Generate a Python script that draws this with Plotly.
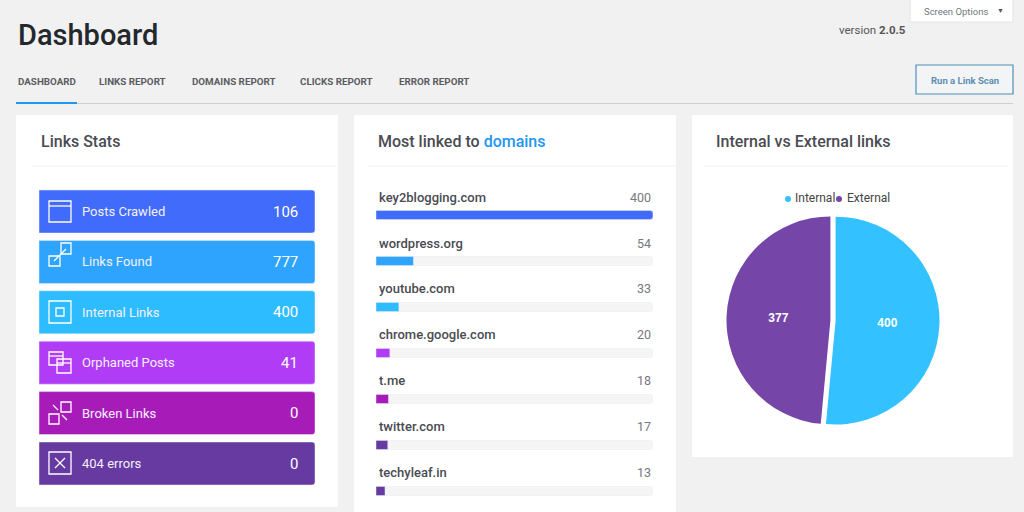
import plotly.graph_objects as go

W = 1024
H = 512
font = "Roboto"
dark = "#4a4b52"

stats = ["Posts Crawled", "Links Found", "Internal Links", "Orphaned Posts", "Broken Links", "404 errors"]
stat_values = [106, 777, 400, 41, 0, 0]
stat_colors = ["#416bfb", "#2ea4fe", "#2dbcff", "#b03cf6", "#a71cb9", "#663aa0"]

domains = ["key2blogging.com", "wordpress.org", "youtube.com", "chrome.google.com", "t.me", "twitter.com", "techyleaf.in"]
links = [400, 54, 33, 20, 18, 17, 13]
link_colors = ["#416bfb", "#2ea4fe", "#2dbcff", "#b03cf6", "#a71cb9", "#663aa0", "#663aa0"]

def fx(x):
    return x / W

def fy(y):
    return 1 - y / H

def box(x0, y0, x1, y1, fill, line=None, width=1, layer="below"):
    return dict(type="rect", xref="paper", yref="paper", x0=fx(x0), x1=fx(x1), y0=fy(y0), y1=fy(y1),
                fillcolor=fill, line=dict(color=line, width=width if line else 0), layer=layer)

def rule(x0, y0, x1, y1, color="#ffffff", width=1.3, layer="above"):
    return dict(type="line", xref="paper", yref="paper", x0=fx(x0), x1=fx(x1), y0=fy(y0), y1=fy(y1),
                line=dict(color=color, width=width), layer=layer)

def dot(cx, cy, r, color):
    return dict(type="circle", xref="paper", yref="paper", x0=fx(cx - r), x1=fx(cx + r), y0=fy(cy + r), y1=fy(cy - r),
                fillcolor=color, line=dict(width=0), layer="above")

def label(x, y, text, size, color=dark, anchor="left", weight=400):
    fig.add_annotation(xref="paper", yref="paper", x=fx(x), y=fy(y), text=text, showarrow=False,
                       xanchor=anchor, yanchor="middle", align=anchor,
                       font=dict(family=font, size=size, color=color, weight=weight))

fig = go.Figure()

# stat panels
fig.add_trace(go.Bar(x=[1] * 6, y=stats, orientation="h", width=0.853, marker_color=stat_colors,
                     xaxis="x", yaxis="y", hoverinfo="skip"))

# domain bars, grey track first
fig.add_trace(go.Bar(x=[400] * 7, y=domains, orientation="h", width=0.196, marker_color="#f5f5f5",
                     xaxis="x2", yaxis="y2", hoverinfo="skip"))
fig.add_trace(go.Bar(x=links, y=domains, orientation="h", width=0.196, marker_color=link_colors,
                     xaxis="x2", yaxis="y2"))

fig.add_trace(go.Pie(labels=["Internal", "External"], values=[400, 377], sort=False, direction="clockwise",
                     rotation=0, pull=[0.025, 0.025], marker=dict(colors=["#33c2ff", "#7545a8"]),
                     textinfo="value", textposition="inside", insidetextorientation="horizontal",
                     textfont=dict(family="Liberation Sans", size=12, color="#ffffff", weight=700),
                     domain=dict(x=[fx(724), fx(942)], y=[fy(427), fy(214)]), showlegend=False))

shapes = [
    box(910, -2, 1013, 22, "#ffffff", "#e4e4e4"),
    box(916, 65, 1013, 94, "#f2f4f6", "#4f8fb8", 1.2),
    rule(16, 103.5, 1013, 103.5, "#cfcfcf", 1, "below"),
    rule(16, 103, 77, 103, "#2196f3", 2, "below"),
    box(16, 115, 338, 507, "#ffffff"),
    box(354, 115, 676, 514, "#ffffff"),
    box(692, 115, 1013, 457, "#ffffff"),
    rule(32, 166, 336, 166, "#f1f1f1", 1, "below"),
    rule(368, 166, 676, 166, "#f1f1f1", 1, "below"),
    rule(704, 166, 1008, 166, "#f1f1f1", 1, "below"),
    dot(788, 199, 3, "#33c2ff"),
    dot(839, 199, 3, "#7545a8"),
]

# panel icons
none = "rgba(0,0,0,0)"
shapes += [box(49, 201, 71, 222, none, "#ffffff", 1.3, "above"), rule(49, 206, 71, 206)]
shapes += [box(49, 256, 60, 266, none, "#ffffff", 1.3, "above"), box(61, 243, 71, 254, none, "#ffffff", 1.3, "above"), rule(54, 261, 66, 249)]
shapes += [box(49, 301, 71, 323, none, "#ffffff", 1.3, "above"), box(56, 308, 64, 316, none, "#ffffff", 1.3, "above")]
shapes += [box(49, 352, 63, 365, none, "#ffffff", 1.3, "above"), box(57, 359, 71, 373, none, "#ffffff", 1.3, "above"), rule(49, 356, 63, 356), rule(57, 363, 71, 363)]
shapes += [box(61, 402, 71, 412, none, "#ffffff", 1.3, "above"), box(49, 414, 59, 424, none, "#ffffff", 1.3, "above"), rule(53, 405, 58, 410), rule(62, 415, 67, 420)]
shapes += [box(49, 452, 71, 474, none, "#ffffff", 1.3, "above"), rule(55, 458, 65, 468), rule(65, 458, 55, 468)]

fig.update_layout(
    width=W, height=H, margin=dict(l=0, r=0, t=0, b=0), autosize=False,
    paper_bgcolor="#f1f1f1", plot_bgcolor="rgba(0,0,0,0)",
    barmode="overlay", barcornerradius=3, showlegend=False, shapes=shapes,
    xaxis=dict(domain=[fx(39), fx(315)], range=[0, 1], visible=False, fixedrange=True),
    yaxis=dict(domain=[fy(488.7), fy(186.3)], autorange="reversed", visible=False, fixedrange=True),
    xaxis2=dict(domain=[fx(376), fx(653)], range=[0, 400], visible=False, fixedrange=True, anchor="y2"),
    yaxis2=dict(domain=[fy(512), fy(192)], range=[6.457, -0.5], visible=False, fixedrange=True, anchor="x2"),
)

# header
label(16, 35, "Dashboard", 29, "#23282d", weight=500)
label(837, 30, "version <b>2.0.5</b>", 11.5, "#555555")
label(922, 11, "Screen Options", 9.5, "#72777c")
label(1000, 10.5, "▼", 7, "#555555", "center")
label(964.5, 80, "Run a Link Scan", 9.5, "#5d8fb3", "center", 700)

tabs = [(16, "DASHBOARD"), (97, "LINKS REPORT"), (190, "DOMAINS REPORT"), (298, "CLICKS REPORT"), (397, "ERROR REPORT")]
for x, tab in tabs:
    label(x, 81, tab, 9.8, "#5b5c62", weight=700)

# card titles
label(39, 141, "Links Stats", 16, weight=500)
label(376, 141, 'Most linked to <span style="color:#2196f3">domains</span>', 16, weight=500)
label(714, 141, "Internal vs External links", 16, weight=500)

for stat, value in zip(stats, stat_values):
    fig.add_annotation(xref="paper", yref="y", x=fx(80), y=stat, text=stat, showarrow=False, xanchor="left",
                       font=dict(family=font, size=13, color="#f4f0ff"))
    fig.add_annotation(xref="paper", yref="y", x=fx(300), y=stat, text=str(value), showarrow=False, xanchor="right",
                       font=dict(family=font, size=15, color="#ffffff"))

for name, value in zip(domains, links):
    fig.add_annotation(xref="paper", yref="y2", x=fx(376.5), y=name, text=name, showarrow=False, xanchor="left", yshift=18,
                       font=dict(family=font, size=13, color=dark, weight=500))
    fig.add_annotation(xref="paper", yref="y2", x=fx(653), y=name, text=str(value), showarrow=False, xanchor="right", yshift=18,
                       font=dict(family=font, size=12.5, color="#77787e"))

label(793, 198, "Internal", 12, "#444444")
label(845, 198, "External", 12, "#444444")

fig.write_html("out.html", config=dict(displayModeBar=False),
               post_script="document.body.style.margin='0';document.body.style.overflow='hidden';")
